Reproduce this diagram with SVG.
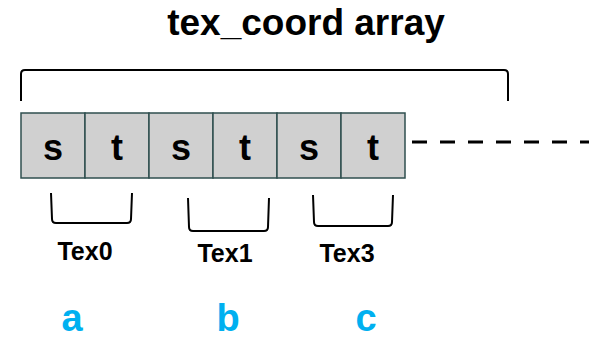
<svg xmlns="http://www.w3.org/2000/svg" width="589" height="340" viewBox="0 0 589 340">
<style>
.cell{fill:#d0d0d0;stroke:#2f4f4f;stroke-width:1.5}
.cl{font-family:"Liberation Sans",Arial,sans-serif;font-weight:bold;font-size:36px;fill:#000;text-anchor:middle}
.br{fill:none;stroke:#000;stroke-width:2;stroke-linejoin:round}
.lb{font-family:"Liberation Sans",Arial,sans-serif;font-weight:bold;font-size:25px;fill:#000;text-anchor:middle}
.ab{font-family:"Liberation Sans",Arial,sans-serif;font-weight:bold;font-size:38px;fill:#00b0f0;text-anchor:middle}
</style>
<rect width="589" height="340" fill="#fff"/>
<text id="title" x="306" y="35" font-family="Liberation Sans, Arial, sans-serif" font-weight="bold" font-size="37" text-anchor="middle">tex_coord array</text>
<g id="connectors">
<path class="br" d="M21 101 L21 74 Q21 70 25 70 L504 70 Q508 70 508 74 L508 101"/>
<line x1="412" y1="142" x2="589" y2="142" stroke="#000" stroke-width="3" stroke-dasharray="15 13"/>
<path class="br" d="M51 193 L52 219 Q52 223 56 223 L127 223 Q131 223 131 219 L132 193"/>
<path class="br" d="M188 198 L189 227 Q189 231 193 231 L264 231 Q268 231 268 227 L269 198"/>
<path class="br" d="M313 195 L314 222 Q314 226 318 226 L388 226 Q392 226 392 222 L393 195"/>
</g>
<g id="array">
<g id="c0"><rect class="cell" x="21" y="113" width="64" height="65"/><text class="cl" x="53" y="160">s</text></g>
<g id="c1"><rect class="cell" x="85" y="113" width="64" height="65"/><text class="cl" x="117" y="160">t</text></g>
<g id="c2"><rect class="cell" x="149" y="113" width="64" height="65"/><text class="cl" x="181" y="160">s</text></g>
<g id="c3"><rect class="cell" x="213" y="113" width="64" height="65"/><text class="cl" x="245" y="160">t</text></g>
<g id="c4"><rect class="cell" x="277" y="113" width="64" height="65"/><text class="cl" x="309" y="160">s</text></g>
<g id="c5"><rect class="cell" x="341" y="113" width="64" height="65"/><text class="cl" x="373" y="160">t</text></g>
</g>
<g id="tex0"><text class="lb" x="85" y="260">Tex0</text></g>
<g id="tex1"><text class="lb" x="225" y="262">Tex1</text></g>
<g id="tex3"><text class="lb" x="347" y="262">Tex3</text></g>
<g id="la"><text class="ab" x="72" y="331">a</text></g>
<g id="lb"><text class="ab" x="228" y="331">b</text></g>
<g id="lc"><text class="ab" x="366" y="331">c</text></g>
</svg>
